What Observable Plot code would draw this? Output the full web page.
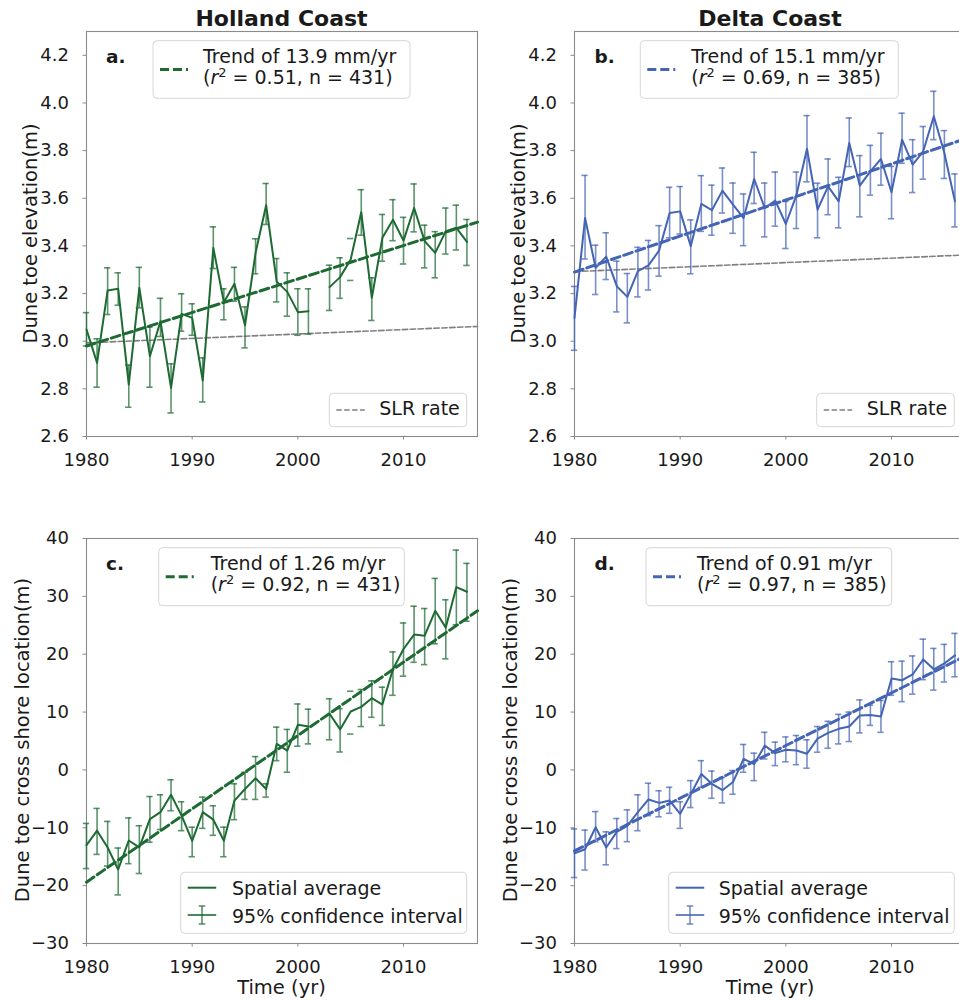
<!DOCTYPE html>
<html>
<head>
<meta charset="utf-8">
<script src="https://cdn.jsdelivr.net/npm/d3@7"></script>
<script src="https://cdn.jsdelivr.net/npm/@observablehq/plot@0.6"></script>
<style>
  html, body { margin: 0; padding: 0; background: #fff; }
  #fig { position: relative; width: 959px; height: 1001px; overflow: hidden; background: #fff; font-family: "DejaVu Sans", sans-serif; }
  #fig > svg { position: absolute; }
</style>
</head>
<body>
<div id="fig"></div>
<script>
// ---------------- data ----------------
const years = d3.range(1980, 2017);
const xTicks = [1980, 1990, 2000, 2010];
const elevTicks = [2.6, 2.8, 3.0, 3.2, 3.4, 3.6, 3.8, 4.0, 4.2];
const locTicks = [-30, -20, -10, 0, 10, 20, 30, 40];

// Holland Coast – dune toe elevation (m)
const hollandElev = [3.049, 2.909, 3.213, 3.22, 2.818, 3.224, 2.937, 3.084, 2.804, 3.115,
  3.098, 2.835, 3.392, 3.164, 3.241, 3.067, 3.371, 3.571, 3.25, 3.207,
  3.122, 3.126, null, 3.227, 3.269, 3.343, 3.541, 3.182, 3.434, 3.51,
  3.422, 3.559, 3.42, 3.371, 3.462, 3.476, 3.417];
const hollandElevLo = [2.98, 2.807, 3.112, 3.151, 2.723, 3.14, 2.807, 3.02, 2.699, 3.042,
  3.025, 2.745, 3.305, 3.09, 3.168, 2.972, 3.283, 3.49, 3.165, 3.105,
  3.025, 3.03, null, 3.129, 3.18, 3.255, 3.445, 3.087, 3.336, 3.422,
  3.324, 3.459, 3.308, 3.266, 3.366, 3.383, 3.318];
const hollandElevHi = [3.12, 3.01, 3.308, 3.287, 2.90, 3.31, 3.059, 3.18, 2.905, 3.199,
  3.157, 2.93, 3.48, 3.22, 3.31, 3.144, 3.43, 3.662, 3.347, 3.287,
  3.22, 3.22, null, 3.319, 3.35, 3.431, 3.636, 3.266, 3.532, 3.594,
  3.52, 3.66, 3.487, 3.46, 3.559, 3.571, 3.511];

// Delta Coast – dune toe elevation (m)
const deltaElev = [3.098, 3.517, 3.308, 3.355, 3.231, 3.186, 3.294, 3.318, 3.38, 3.538,
  3.545, 3.399, 3.576, 3.55, 3.632, 3.573, 3.517, 3.681, 3.559, 3.59,
  3.492, 3.613, 3.808, 3.552, 3.65, 3.587, 3.832, 3.653, 3.713, 3.765,
  3.625, 3.846, 3.741, 3.797, 3.944, 3.79, 3.587];
const deltaElevLo = [2.962, 3.345, 3.196, 3.259, 3.123, 3.077, 3.186, 3.215, 3.273, 3.434,
  3.45, 3.283, 3.461, 3.445, 3.538, 3.453, 3.401, 3.578, 3.438, 3.483,
  3.389, 3.473, 3.669, 3.434, 3.531, 3.476, 3.733, 3.522, 3.613, 3.655,
  3.514, 3.747, 3.624, 3.68, 3.846, 3.683, 3.48];
const deltaElevHi = [3.23, 3.696, 3.403, 3.455, 3.336, 3.284, 3.394, 3.423, 3.485, 3.646,
  3.649, 3.509, 3.695, 3.655, 3.727, 3.664, 3.618, 3.793, 3.664, 3.71,
  3.587, 3.71, 3.947, 3.663, 3.765, 3.688, 3.937, 3.779, 3.822, 3.873,
  3.734, 3.957, 3.846, 3.901, 4.049, 3.884, 3.702];

// Holland Coast – dune toe cross shore location (m)
const hollandLoc = [-13.0, -10.5, -13.4, -17.2, -12.2, -13.4, -8.5, -7.3, -4.3, -7.9,
  -12.25, -7.3, -8.6, -12.25, -5.3, -3.3, -1.45, -3.3, 4.5, 3.35,
  7.8, 7.5, null, 9.7, 7.0, 10.1, 10.9, 12.4, 11.3, 17.4,
  20.9, 23.4, 23.2, 27.5, 24.6, 31.6, 30.8];
const hollandLocLo = [-17.05, -14.6, -16.6, -21.6, -16.2, -17.9, -12.5, -10.3, -7.05, -10.5,
  -15.0, -10.1, -11.3, -15.0, -8.6, -5.1, -5.1, -4.7, 1.6, -0.4,
  4.1, 4.5, null, 5.2, 3.1, 6.2, 7.5, 9.1, 7.7, 12.9,
  16.2, 18.6, 18.2, 21.8, 19.2, 25.1, 25.7];
const hollandLocHi = [-9.25, -6.65, -8.9, -13.5, -8.3, -9.65, -4.6, -4.3, -1.7, -5.5,
  -9.9, -4.7, -6.2, -9.9, -2.4, -0.4, 2.3, -2.4, 7.4, 7.0,
  11.4, 10.5, null, 12.3, 10.6, 13.6, 13.9, 15.4, 14.3, 20.4,
  25.4, 28.3, 27.9, 33.1, 29.4, 38.0, 35.7];

// Delta Coast – dune toe cross shore location (m)
const deltaLoc = [-14.4, -13.7, -9.9, -13.4, -10.7, -9.65, -7.3, -5.1, -5.7, -5.3,
  -7.6, -4.2, -0.7, -2.4, -3.5, -2.1, 1.9, 1.0, 4.2, 2.9,
  3.5, 3.35, 2.8, 5.4, 6.4, 7.1, 7.5, 9.4, 9.5, 9.25,
  15.8, 15.5, 16.5, 19.1, 17.4, 18.4, 19.8];
const deltaLocLo = [-18.6, -17.3, -12.4, -16.4, -13.6, -12.4, -10.5, -7.9, -8.1, -7.5,
  -10.1, -6.5, -3.0, -4.9, -5.7, -4.2, -0.4, -1.85, 1.9, 0.75,
  1.4, 0.9, 0.3, 3.06, 3.75, 4.5, 4.9, 6.4, 7.7, 6.5,
  12.9, 11.8, 13.1, 15.6, 13.8, 15.2, 16.1];
const deltaLocHi = [-10.2, -10.4, -7.2, -10.7, -8.4, -6.9, -4.3, -2.3, -3.6, -3.0,
  -5.5, -1.85, 1.6, -0.2, -1.3, -0.1, 4.4, 2.9, 6.5, 4.8,
  5.7, 5.95, 5.2, 7.5, 8.4, 9.6, 10.0, 12.1, 11.2, 12.0,
  18.7, 18.8, 19.7, 22.6, 21.0, 21.7, 23.6];

// Years whose error bar shows only caps (no stem) in the Holland panels
const hollandNoStem = [2005];

// Trend lines and sea-level-rise lines (end values)
const trendYears = [1980, 2017];
const hollandElevTrend = [2.98, 3.50];
const deltaElevTrend = [3.29, 3.85];
const hollandLocTrend = [-19.4, 27.5];
const deltaLocTrend = [-14.0, 19.7];
const hollandSLR = [2.993, 3.062];
const deltaSLR = [3.292, 3.362];

// ---------------- styling ----------------
const GREEN = "#1d6a33";
const BLUE = "#4464b4";
const FRAME = "#8a8a8a";
const TEXT = "#1a1a1a";
const FONT = "DejaVu Sans";

function makePanel({series, lo, hi, trend, slr, color, yDomain, yTicks, fmt, noStem = []}) {
  const rows = years.map((year, i) => ({year, v: series[i], lo: lo[i], hi: hi[i]}));
  const valid = rows.filter(d => d.v != null);
  const trendRows = trendYears.map((year, i) => ({year, v: trend[i]}));
  const marks = [
    Plot.frame({stroke: FRAME, strokeWidth: 1.1}),
    Plot.axisX({ticks: xTicks, tickFormat: d => String(d), tickSize: 3.5, tickPadding: 13, stroke: FRAME, label: null}),
    Plot.axisY({ticks: yTicks, tickFormat: fmt, tickSize: 3.5, tickPadding: 14, stroke: FRAME, label: null})
  ];
  if (slr) {
    const slrRows = trendYears.map((year, i) => ({year, v: slr[i]}));
    marks.push(Plot.line(slrRows, {x: "year", y: "v", stroke: "#808080", strokeWidth: 1.6, strokeDasharray: "5.5 2.4"}));
  }
  marks.push(
    Plot.ruleX(valid.filter(d => !noStem.includes(d.year)), {x: "year", y1: "lo", y2: "hi", stroke: color, strokeOpacity: 0.72, strokeWidth: 1.6}),
    Plot.ruleY(valid, {x1: d => d.year - 0.3, x2: d => d.year + 0.3, y: "lo", stroke: color, strokeOpacity: 0.72, strokeWidth: 1.6}),
    Plot.ruleY(valid, {x1: d => d.year - 0.3, x2: d => d.year + 0.3, y: "hi", stroke: color, strokeOpacity: 0.72, strokeWidth: 1.6}),
    Plot.line(rows, {x: "year", y: "v", stroke: color, strokeWidth: 2}),
    Plot.line(trendRows, {x: "year", y: "v", stroke: color, strokeWidth: 3, strokeDasharray: "9 4"})
  );
  return Plot.plot({
    width: 480, height: 470,
    marginLeft: 86, marginRight: 3, marginTop: 31, marginBottom: 34,
    style: {fontFamily: FONT, fontSize: "18px", color: TEXT, background: "transparent", overflow: "visible"},
    x: {domain: [1980, 2017]},
    y: {domain: yDomain},
    marks
  });
}

const fig = document.getElementById("fig");
const f1 = d3.format(".1f");
const fInt = d3.format("d");

const panels = [
  {left: 0, top: 0, opts: {series: hollandElev, lo: hollandElevLo, hi: hollandElevHi, trend: hollandElevTrend, slr: hollandSLR, color: GREEN, yDomain: [2.6, 4.3], yTicks: elevTicks, fmt: f1, noStem: hollandNoStem}},
  {left: 488, top: 0, opts: {series: deltaElev, lo: deltaElevLo, hi: deltaElevHi, trend: deltaElevTrend, slr: deltaSLR, color: BLUE, yDomain: [2.6, 4.3], yTicks: elevTicks, fmt: f1}},
  {left: 0, top: 507, opts: {series: hollandLoc, lo: hollandLocLo, hi: hollandLocHi, trend: hollandLocTrend, color: GREEN, yDomain: [-30, 40], yTicks: locTicks, fmt: fInt, noStem: hollandNoStem}},
  {left: 488, top: 507, opts: {series: deltaLoc, lo: deltaLocLo, hi: deltaLocHi, trend: deltaLocTrend, color: BLUE, yDomain: [-30, 40], yTicks: locTicks, fmt: fInt}}
];
for (const p of panels) {
  const svg = makePanel(p.opts);
  svg.style.left = p.left + "px";
  svg.style.top = p.top + "px";
  fig.appendChild(svg);
}

// ---------------- annotation overlay (titles, labels, legends) ----------------
const ov = d3.select(fig).append("svg")
  .attr("width", 959).attr("height", 1001)
  .style("left", "0px").style("top", "0px")
  .style("pointer-events", "none")
  .attr("font-family", FONT).attr("fill", TEXT);

function text(x, y, s, opts = {}) {
  const t = ov.append("text").attr("x", x).attr("y", y).text(s)
    .attr("font-size", opts.size || 19)
    .attr("text-anchor", opts.anchor || "start");
  if (opts.bold) t.attr("font-weight", "bold");
  if (opts.rotate) t.attr("transform", `rotate(-90 ${x} ${y})`);
  return t;
}

// titles
text(281.5, 26, "Holland Coast", {size: 22, bold: true, anchor: "middle"});
text(770, 26, "Delta Coast", {size: 22, bold: true, anchor: "middle"});
// axis labels
text(37, 233.5, "Dune toe elevation(m)", {size: 19.5, anchor: "middle", rotate: true});
text(525, 233.5, "Dune toe elevation(m)", {size: 19.5, anchor: "middle", rotate: true});
text(29, 740, "Dune toe cross shore location(m)", {size: 19.5, anchor: "middle", rotate: true});
text(517, 740, "Dune toe cross shore location(m)", {size: 19.5, anchor: "middle", rotate: true});
text(281.5, 994, "Time (yr)", {size: 19.5, anchor: "middle"});
text(770, 994, "Time (yr)", {size: 19.5, anchor: "middle"});
// panel letters
text(106, 63.3, "a.", {size: 18.5, bold: true});
text(594.5, 63.3, "b.", {size: 18.5, bold: true});
text(106, 570, "c.", {size: 18.5, bold: true});
text(594.5, 570, "d.", {size: 18.5, bold: true});

function box(x0, y0, x1, y1) {
  ov.append("rect").attr("x", x0).attr("y", y0).attr("width", x1 - x0).attr("height", y1 - y0)
    .attr("rx", 4).attr("fill", "#fff").attr("fill-opacity", 0.85).attr("stroke", "#d6d6d6").attr("stroke-width", 1);
}
function sample(x0, x1, y, color, width, dash) {
  ov.append("line").attr("x1", x0).attr("x2", x1).attr("y1", y).attr("y2", y)
    .attr("stroke", color).attr("stroke-width", width).attr("stroke-dasharray", dash || null);
}
function trendLegend(x0, y0, x1, y1, tx, color, l1, r2, n) {
  box(x0, y0, x1, y1);
  sample(x0 + 7, x0 + 35, (y0 + y1) / 2, color, 3, "9 4");
  text(tx, y0 + 22.6, l1);
  const t = text(tx, y0 + 43.6, "(");
  t.append("tspan").attr("font-style", "italic").text("r");
  t.append("tspan").attr("dy", -7).attr("font-size", 13).text("2");
  t.append("tspan").attr("dy", 7).text(` = ${r2}, n = ${n})`);
}
function slrLegend(x0, y0, x1, y1, tx) {
  box(x0, y0, x1, y1);
  sample(x0 + 7, x0 + 35.5, (y0 + y1) / 2, "#808080", 1.6, "5.5 2.4");
  text(tx, y0 + 21.7, "SLR rate");
}
function seriesLegend(x0, y0, x1, y1, tx, color) {
  box(x0, y0, x1, y1);
  sample(x0 + 7, x0 + 35.5, y0 + 15.4, color, 2);
  const ye = y0 + 42.7, xm = x0 + 21.3;
  sample(x0 + 7, x0 + 35.5, ye, color, 1.6);
  ov.append("line").attr("x1", xm).attr("x2", xm).attr("y1", ye - 9).attr("y2", ye + 9)
    .attr("stroke", color).attr("stroke-opacity", 0.72).attr("stroke-width", 1.6);
  for (const yy of [ye - 9, ye + 9]) {
    ov.append("line").attr("x1", xm - 3.3).attr("x2", xm + 3.3).attr("y1", yy).attr("y2", yy)
      .attr("stroke", color).attr("stroke-opacity", 0.72).attr("stroke-width", 1.6);
  }
  text(tx, y0 + 22.7, "Spatial average");
  text(tx, y0 + 51, "95% confidence interval");
}

trendLegend(153, 40.7, 410, 98.3, 203, GREEN, "Trend of 13.9 mm/yr", "0.51", "431");
trendLegend(640.3, 40.7, 898.3, 98.3, 691.3, BLUE, "Trend of 15.1 mm/yr", "0.69", "385");
trendLegend(158.7, 547.7, 404.3, 605.7, 210.7, GREEN, "Trend of 1.26 m/yr", "0.92", "431");
trendLegend(646, 547.7, 891.7, 605.7, 697, BLUE, "Trend of 0.91 m/yr", "0.97", "385");
slrLegend(329.3, 393.3, 466.7, 426.7, 379.3);
slrLegend(816.7, 393.3, 954.3, 426.7, 866.7);
seriesLegend(180.7, 872.3, 466.7, 933.3, 232, GREEN);
seriesLegend(668.7, 872.3, 954.3, 933.3, 718.7, BLUE);
</script>
</body>
</html>
